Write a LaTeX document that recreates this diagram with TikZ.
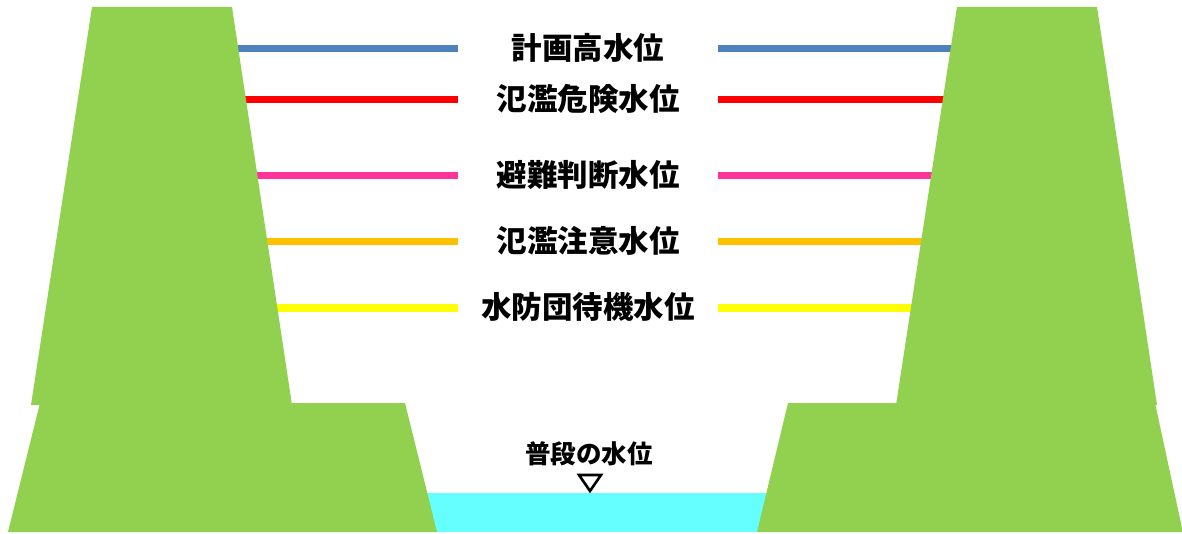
\documentclass[tikz,border=0pt]{standalone}
\usepackage{fontspec}
\newfontfamily\jp{Noto Sans CJK JP}
\definecolor{bank}{HTML}{92D050}
\definecolor{water}{HTML}{66FFFF}
\definecolor{lvblue}{HTML}{4F81BD}
\definecolor{lvred}{HTML}{FF0000}
\definecolor{lvpink}{HTML}{FF3399}
\definecolor{lvorange}{HTML}{FFC000}
\definecolor{lvyellow}{HTML}{FFFF00}
\tikzset{
  levelline/.style={line width=7pt},
  levellabel/.style={font=\jp\bfseries\fontsize{30.5}{32}\selectfont, inner sep=0pt, anchor=center},
  embankment/.style={fill=bank, draw=none},
}
\begin{document}
\begin{tikzpicture}[x=1pt, y=-1pt]
\useasboundingbox (0,0) rectangle (1182,534);
\fill[white] (0,0) rectangle (1182,534);

% river water
\fill[water] (420,493) rectangle (770,532);

% water level lines and their labels
\foreach \name/\yy/\col/\txt in {
  plan/48.5/lvblue/計画高水位,
  danger/100/lvred/氾濫危険水位,
  evac/176/lvpink/避難判断水位,
  caution/242/lvorange/氾濫注意水位,
  standby/308/lvyellow/水防団待機水位} {
  \coordinate (\name-l1) at (230,\yy);
  \coordinate (\name-l2) at (458,\yy);
  \coordinate (\name-r1) at (718,\yy);
  \coordinate (\name-r2) at (965,\yy);
  \draw[levelline, \col] (\name-l1) -- (\name-l2);
  \draw[levelline, \col] (\name-r1) -- (\name-r2);
  \node[levellabel] (\name-txt) at (588,\yy-1) {\txt};
}

% embankments, upper slopes
\fill[embankment] (92,7) -- (232,7) -- (292,405) -- (31,405) -- cycle;
\fill[embankment] (957,7) -- (1097,7) -- (1157,405) -- (896,405) -- cycle;
% embankments, lower berms
\fill[embankment] (40,403) -- (405,403) -- (437,532) -- (8,532) -- cycle;
\fill[embankment] (788,403) -- (1155,403) -- (1182,528) -- (1182,532) -- (757,532) -- cycle;

% normal water level marker
\node[font=\jp\bfseries\fontsize{25.5}{27}\selectfont, inner sep=0pt] (normal) at (589,454) {普段の水位};
\draw[line width=2.6pt, line join=miter] (579,475) -- (601,475) -- (590,491) -- cycle;
\end{tikzpicture}
\end{document}
